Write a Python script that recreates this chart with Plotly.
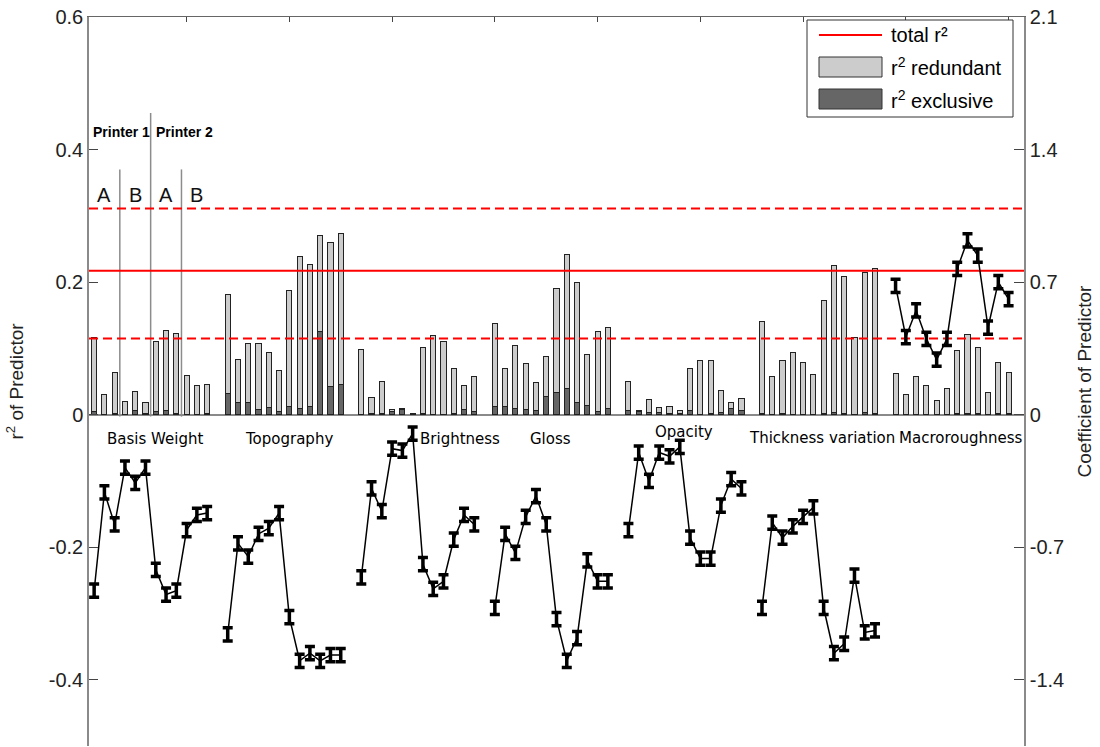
import plotly.graph_objects as go

# ---------------------------------------------------------------- data
groups = ["Basis Weight", "Topography", "Brightness", "Gloss",
          "Opacity", "Thickness variation", "Macroroughness"]

# r² exclusive (dark, bottom of stack) per predictor, 12 per group
r2_exclusive = [
    [0.004, 0.000, 0.002, 0.000, 0.007, 0.002, 0.004, 0.007, 0.002, 0.000, 0.000, 0.002],
    [0.032, 0.018, 0.019, 0.008, 0.011, 0.004, 0.013, 0.009, 0.013, 0.126, 0.043, 0.045],
    [0.000, 0.002, 0.002, 0.005, 0.008, 0.002, 0.002, 0.000, 0.000, 0.002, 0.008, 0.004],
    [0.013, 0.013, 0.010, 0.008, 0.007, 0.027, 0.033, 0.040, 0.019, 0.014, 0.005, 0.010],
    [0.007, 0.005, 0.003, 0.003, 0.001, 0.002, 0.007, 0.000, 0.002, 0.003, 0.009, 0.006],
    [0.002, 0.000, 0.002, 0.000, 0.000, 0.000, 0.001, 0.003, 0.002, 0.000, 0.003, 0.001],
    [0.000, 0.000, 0.000, 0.000, 0.000, 0.000, 0.001, 0.001, 0.002, 0.000, 0.001, 0.001],
]

# r² redundant (light, stacked on top)
r2_redundant = [
    [0.112, 0.031, 0.061, 0.020, 0.028, 0.017, 0.106, 0.120, 0.121, 0.059, 0.044, 0.044],
    [0.150, 0.065, 0.089, 0.100, 0.083, 0.063, 0.175, 0.229, 0.214, 0.145, 0.216, 0.229],
    [0.099, 0.024, 0.048, 0.003, 0.001, 0.000, 0.099, 0.120, 0.110, 0.068, 0.036, 0.054],
    [0.125, 0.057, 0.094, 0.069, 0.041, 0.060, 0.158, 0.202, 0.180, 0.077, 0.121, 0.122],
    [0.043, 0.001, 0.020, 0.008, 0.011, 0.005, 0.062, 0.081, 0.079, 0.034, 0.009, 0.019],
    [0.138, 0.058, 0.080, 0.094, 0.078, 0.060, 0.171, 0.222, 0.206, 0.117, 0.211, 0.220],
    [0.062, 0.031, 0.058, 0.044, 0.022, 0.040, 0.096, 0.120, 0.099, 0.034, 0.078, 0.063],
]

# regression coefficient of each predictor (right axis)
coefficient = [
    [-0.93, -0.41, -0.58, -0.28, -0.36, -0.28, -0.82, -0.95, -0.93, -0.61, -0.53, -0.52],
    [-1.16, -0.68, -0.75, -0.63, -0.60, -0.52, -1.07, -1.30, -1.26, -1.30, -1.27, -1.27],
    [-0.86, -0.39, -0.51, -0.18, -0.19, -0.10, -0.79, -0.92, -0.88, -0.66, -0.53, -0.58],
    [-1.02, -0.63, -0.73, -0.54, -0.43, -0.58, -1.08, -1.30, -1.18, -0.77, -0.88, -0.88],
    [-0.61, -0.20, -0.35, -0.20, -0.22, -0.17, -0.65, -0.76, -0.76, -0.48, -0.34, -0.39],
    [-1.02, -0.57, -0.65, -0.59, -0.54, -0.49, -1.02, -1.26, -1.21, -0.85, -1.15, -1.14],
    [0.68, 0.41, 0.55, 0.40, 0.29, 0.40, 0.77, 0.92, 0.84, 0.46, 0.70, 0.61],
]
coefficient_err = 0.035

total_r2 = 0.217
total_r2_low = 0.115
total_r2_high = 0.311

printer_labels = ["Printer 1", "Printer 2"]
setup_labels = ["A", "B", "A", "B"]

# ---------------------------------------------------------------- layout helpers
PER_GROUP = 12
SLOT = PER_GROUP + 1          # one empty slot between groups
X_MIN, X_MAX = 0.5, 91.5
W, H = 1100, 747
ML, MR, MT, MB = 89, 76, 17, 1


def xpos(g, i):
    return g * SLOT + i + 1


def px(x):  # pixel -> paper x
    return (x - ML) / (W - ML - MR)


def py(y):  # pixel -> paper y
    return (H - MB - y) / (H - MT - MB)


LIGHT = "#cccccc"
DARK = "#666666"
EDGE = "#222222"
AXIS = "#8a8a8a"

fig = go.Figure()

xs = [xpos(g, i) for g in range(len(groups)) for i in range(PER_GROUP)]
excl_flat = [v for row in r2_exclusive for v in row]
red_flat = [v for row in r2_redundant for v in row]

fig.add_trace(go.Bar(x=xs, y=excl_flat, width=0.5, name="r² exclusive",
                     marker=dict(color=DARK, line=dict(color=EDGE, width=1)),
                     showlegend=False))
fig.add_trace(go.Bar(x=xs, y=red_flat, width=0.5, name="r² redundant",
                     marker=dict(color=LIGHT, line=dict(color=EDGE, width=1)),
                     showlegend=False))

# total r² and its band
for val, dash in [(total_r2, "solid"), (total_r2_low, "9px,5px"), (total_r2_high, "9px,5px")]:
    fig.add_trace(go.Scatter(x=[X_MIN, X_MAX], y=[val, val], mode="lines",
                             line=dict(color="#ff0000", width=2, dash=dash),
                             showlegend=False, hoverinfo="skip"))

# coefficients with error bars, one line per group
for g in range(len(groups)):
    fig.add_trace(go.Scatter(
        x=[xpos(g, i) for i in range(PER_GROUP)], y=coefficient[g],
        yaxis="y2", mode="lines",
        line=dict(color="black", width=1.5),
        error_y=dict(type="constant", value=coefficient_err, color="black",
                     thickness=3.5, width=5),
        showlegend=False))

shapes = []
# printer / setup separators in the first group
for xv, top in [(3.5, 0.37), (6.5, 0.455), (9.5, 0.37)]:
    shapes.append(dict(type="line", xref="x", yref="y", x0=xv, x1=xv, y0=-0.003, y1=top,
                       line=dict(color="#8c8c8c", width=1.5), layer="below"))

annotations = []
for k, lab in enumerate(setup_labels):
    annotations.append(dict(x=2 + 3 * k, y=0.331, xref="x", yref="y", text=lab,
                            showarrow=False, font=dict(family="Liberation Sans", size=20, color="#111")))
for xv, lab in zip([3.63, 9.77], printer_labels):
    annotations.append(dict(x=xv, y=0.426, xref="x", yref="y", text=f"<b>{lab}</b>",
                            showarrow=False, font=dict(family="Liberation Sans", size=14, color="black")))

label_x = [6.9, 20.0, 36.6, 45.4, 58.4, 71.8, 85.3]
label_y = [-0.037, -0.037, -0.037, -0.037, -0.026, -0.035, -0.035]
for name, xv, yv in zip(groups, label_x, label_y):
    annotations.append(dict(x=xv, y=yv, xref="x", yref="y", text=name, showarrow=False,
                            font=dict(family="DejaVu Sans", size=15, color="black")))

# legend box
shapes.append(dict(type="rect", xref="paper", yref="paper",
                   x0=px(807), x1=px(1013), y0=py(117), y1=py(20),
                   line=dict(color="#333", width=1), fillcolor="white", layer="above"))
shapes.append(dict(type="line", xref="paper", yref="paper",
                   x0=px(819), x1=px(882), y0=py(35), y1=py(35),
                   line=dict(color="#ff0000", width=2), layer="above"))
shapes.append(dict(type="rect", xref="paper", yref="paper",
                   x0=px(819), x1=px(882), y0=py(77), y1=py(57),
                   line=dict(color="#333", width=1), fillcolor=LIGHT, layer="above"))
shapes.append(dict(type="rect", xref="paper", yref="paper",
                   x0=px(819), x1=px(882), y0=py(109), y1=py(89),
                   line=dict(color="#333", width=1), fillcolor=DARK, layer="above"))
for yy, txt in [(35, "total r²"), (67, "r<sup>2</sup> redundant"), (99, "r<sup>2</sup> exclusive")]:
    annotations.append(dict(x=px(889), y=py(yy), xref="paper", yref="paper", text=txt,
                            xanchor="left", yanchor="middle", showarrow=False,
                            font=dict(family="Liberation Sans", size=20, color="black")))

tick_font = dict(family="Liberation Sans", size=20, color="#222")
title_font = dict(family="Liberation Sans", size=19, color="#222")
fig.update_layout(
    width=W, height=H,
    margin=dict(l=ML, r=MR, t=MT, b=MB),
    plot_bgcolor="white", paper_bgcolor="white",
    barmode="stack",
    shapes=shapes, annotations=annotations,
    xaxis=dict(range=[X_MIN, X_MAX], side="top", showline=True, linecolor="#666", linewidth=1,
               ticks="inside", ticklen=5, tickcolor="#444", tickvals=list(range(10, 91, 10)),
               showticklabels=False, showgrid=False, zeroline=False),
    yaxis=dict(range=[-0.5, 0.6], tickvals=[-0.4, -0.2, 0, 0.2, 0.4, 0.6],
               ticktext=["-0.4", "-0.2", "0", "0.2", "0.4", "0.6"],
               ticks="inside", ticklen=9, tickcolor="#444", showline=True, linecolor=AXIS,
               linewidth=1.5, showgrid=False, zeroline=True, zerolinecolor=AXIS,
               zerolinewidth=1.5, tickfont=tick_font,
               title=dict(text="r<sup>2</sup> of Predictor", font=title_font, standoff=20)),
    yaxis2=dict(range=[-1.75, 2.1], overlaying="y", side="right",
                tickvals=[-1.4, -0.7, 0, 0.7, 1.4, 2.1],
                ticktext=["-1.4", "-0.7", "0", "0.7", "1.4", "2.1"],
                ticks="inside", ticklen=10, tickcolor="#444", showline=True, linecolor=AXIS,
                linewidth=1.5, showgrid=False, zeroline=False, tickfont=tick_font,
                title=dict(text="Coefficient of Predictor", font=title_font, standoff=14)),
    showlegend=False,
)

fig.write_html("out.html")
